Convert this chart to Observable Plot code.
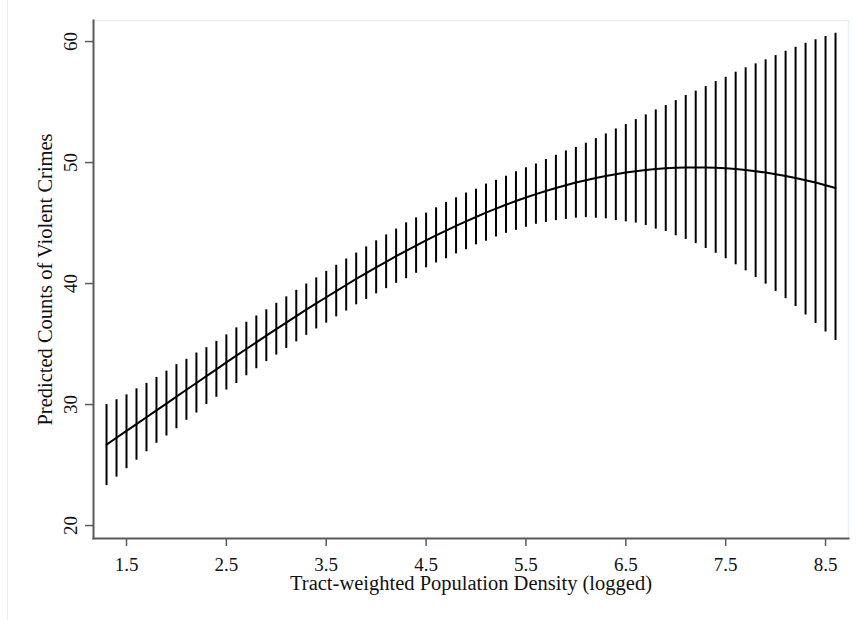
<!DOCTYPE html>
<html>
<head>
<meta charset="utf-8">
<script src="https://cdn.jsdelivr.net/npm/d3@7"></script>
<script src="https://cdn.jsdelivr.net/npm/@observablehq/plot@0.6"></script>
<style>
  html, body { margin: 0; padding: 0; background: #fff; }
  #wrap { position: relative; width: 858px; height: 620px; }
  #edge { position: absolute; left: 7px; top: 0; width: 1px; height: 620px; background: #e9eff2; }
</style>
</head>
<body>
<div id="wrap"><div id="edge"></div></div>
<script>
// Logged tract-weighted population density at which predictions were made
const density = [
  1.3, 1.4, 1.5, 1.6, 1.7, 1.8, 1.9, 2.0, 2.1, 2.2,
  2.3, 2.4, 2.5, 2.6, 2.7, 2.8, 2.9, 3.0, 3.1, 3.2,
  3.3, 3.4, 3.5, 3.6, 3.7, 3.8, 3.9, 4.0, 4.1, 4.2,
  4.3, 4.4, 4.5, 4.6, 4.7, 4.8, 4.9, 5.0, 5.1, 5.2,
  5.3, 5.4, 5.5, 5.6, 5.7, 5.8, 5.9, 6.0, 6.1, 6.2,
  6.3, 6.4, 6.5, 6.6, 6.7, 6.8, 6.9, 7.0, 7.1, 7.2,
  7.3, 7.4, 7.5, 7.6, 7.7, 7.8, 7.9, 8.0, 8.1, 8.2,
  8.3, 8.4, 8.5, 8.6
];

// Predicted counts of violent crimes
const predicted = [
  26.69, 27.26, 27.82, 28.38, 28.95, 29.52, 30.08, 30.65, 31.22, 31.78,
  32.35, 32.91, 33.48, 34.04, 34.59, 35.14, 35.69, 36.23, 36.77, 37.31,
  37.84, 38.36, 38.87, 39.38, 39.88, 40.38, 40.86, 41.34, 41.80, 42.26,
  42.71, 43.14, 43.56, 43.98, 44.38, 44.77, 45.14, 45.50, 45.86, 46.19,
  46.51, 46.82, 47.11, 47.39, 47.65, 47.90, 48.13, 48.35, 48.54, 48.73,
  48.89, 49.04, 49.17, 49.28, 49.38, 49.46, 49.52, 49.57, 49.59, 49.60,
  49.59, 49.57, 49.52, 49.46, 49.38, 49.28, 49.17, 49.04, 48.89, 48.73,
  48.54, 48.35, 48.13, 47.90
];

// Lower bound of the 95% confidence interval
const lower = [
  23.30, 24.00, 24.70, 25.40, 26.10, 26.80, 27.40, 28.00, 28.70, 29.30,
  30.00, 30.60, 31.20, 31.74, 32.38, 32.96, 33.55, 34.09, 34.64, 35.18,
  35.72, 36.25, 36.73, 37.25, 37.73, 38.24, 38.69, 39.15, 39.58, 40.02,
  40.40, 40.85, 41.30, 41.70, 42.05, 42.45, 42.80, 43.20, 43.50, 43.85,
  44.15, 44.40, 44.65, 44.90, 45.05, 45.20, 45.30, 45.40, 45.45, 45.40,
  45.35, 45.20, 45.10, 45.00, 44.80, 44.50, 44.30, 43.95, 43.65, 43.30,
  42.90, 42.50, 42.05, 41.55, 41.05, 40.50, 39.95, 39.35, 38.75, 38.10,
  37.40, 36.70, 36.00, 35.30
];

// Upper bound of the 95% confidence interval
const upper = [
  30.00, 30.40, 30.80, 31.30, 31.75, 32.24, 32.76, 33.30, 33.74, 34.26,
  34.70, 35.22, 35.76, 36.34, 36.80, 37.32, 37.83, 38.37, 38.90, 39.44,
  39.96, 40.47, 41.01, 41.51, 42.03, 42.52, 43.03, 43.53, 44.02, 44.50,
  45.02, 45.43, 45.82, 46.26, 46.71, 47.09, 47.48, 47.80, 48.22, 48.53,
  48.87, 49.24, 49.57, 49.88, 50.25, 50.60, 50.96, 51.25, 51.60, 51.98,
  52.37, 52.78, 53.14, 53.55, 53.94, 54.35, 54.71, 55.12, 55.54, 55.90,
  56.28, 56.69, 57.05, 57.47, 57.83, 58.16, 58.49, 58.84, 59.20, 59.53,
  59.86, 60.14, 60.41, 60.69
];

const xTicks = [1.5, 2.5, 3.5, 4.5, 5.5, 6.5, 7.5, 8.5];
const yTicks = [20, 30, 40, 50, 60];

const rows = density.map((x, i) => ({x, mid: predicted[i], lo: lower[i], hi: upper[i]}));

const axisGray = "#5a5a5a";
const outline = "#e6eef1";
const serif = "'Liberation Serif', 'Times New Roman', serif";

const chart = Plot.plot({
  width: 858,
  height: 620,
  marginLeft: 93,
  marginRight: 10,
  marginTop: 20,
  marginBottom: 82,
  style: {fontFamily: serif, fontSize: "19px", color: "#000", background: "transparent"},
  x: {domain: [1.1695, 8.73]},
  y: {domain: [18.93, 61.74]},
  marks: [
    // plot-region outline (top and right)
    Plot.frame({anchor: "top", stroke: outline, strokeWidth: 1.5}),
    Plot.frame({anchor: "right", stroke: outline, strokeWidth: 1.5}),
    // confidence intervals
    Plot.ruleX(rows, {x: "x", y1: "lo", y2: "hi", stroke: "#000", strokeWidth: 2}),
    // prediction curve
    Plot.line(rows, {x: "x", y: "mid", stroke: "#000", strokeWidth: 2}),
    // axes
    Plot.axisX({ticks: xTicks, tickFormat: d3.format(".1f"), tickSize: 8, tickPadding: 11, stroke: axisGray, fill: "#111", strokeWidth: 1.5, fontSize: 19, fontFamily: serif, label: null}),
    Plot.axisY({ticks: yTicks, tickFormat: d3.format("d"), tickSize: 8, tickPadding: 9, tickRotate: -90, stroke: axisGray, fill: "#111", strokeWidth: 1.5, fontSize: 19, fontFamily: serif, label: null}),
    Plot.frame({anchor: "bottom", stroke: axisGray, strokeWidth: 2}),
    Plot.frame({anchor: "left", stroke: axisGray, strokeWidth: 2}),
    // axis titles
    Plot.text(["Tract-weighted Population Density (logged)"], {frameAnchor: "bottom", dy: 51, lineAnchor: "bottom", textAnchor: "middle", fontSize: 20.5, fontFamily: serif, fill: "#111"}),
    Plot.text(["Predicted Counts of Violent Crimes"], {frameAnchor: "left", dx: -48, rotate: -90, textAnchor: "middle", lineAnchor: "middle", fontSize: 20.5, fontFamily: serif, fill: "#111"})
  ]
});

document.getElementById("wrap").appendChild(chart);
chart.style.position = "absolute";
chart.style.left = "0";
chart.style.top = "0";
</script>
</body>
</html>
